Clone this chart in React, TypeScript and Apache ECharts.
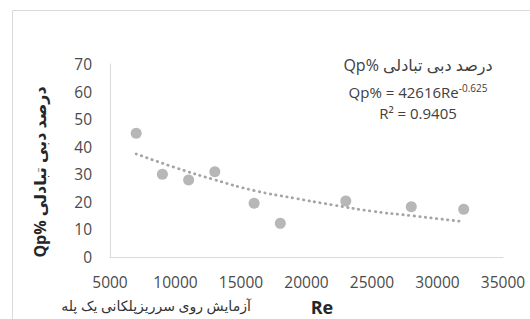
import React, { useEffect, useRef } from "react";
import * as echarts from "echarts";

const reValues = [7000, 9000, 11000, 13000, 16000, 18000, 23000, 28000, 32000];
const qpValues = [44.9, 30.0, 27.9, 30.9, 19.5, 12.2, 20.3, 18.2, 17.3];

// trendline
const trendRe = [7000, 10000, 13000, 16000, 19000, 22000, 25000, 28000, 32000];
const trendQp = [37.4, 32.4, 28.0, 24.1, 21.4, 18.9, 16.6, 15.0, 12.8];

const xTicks = { min: 5000, max: 35000, interval: 5000 };
const yTicks = { min: 0, max: 70, interval: 10 };

const titleText = "Qp% درصد دبی تبادلی";
const yTitleText = "Qp% درصد دبی تبادلی";
const xTitleText = "Re";
const noteText = "آزمایش روی سرریزپلکانی یک پله";
const eqMain = "Qp% = 42616Re";
const eqSup = "-0.625";
const r2Text = "R² = 0.9405";

const FONT = "'Open Sans', 'DejaVu Sans', sans-serif";

export default function App() {
  const ref = useRef<HTMLDivElement>(null);
  useEffect(() => {
    document.body.style.margin = "0";
    const chart = echarts.init(ref.current!, undefined, { renderer: "svg" });
    chart.setOption({
      animation: false,
      backgroundColor: "#ffffff",
      grid: { left: 110, right: 27, top: 64, bottom: 62 },
      xAxis: {
        type: "value",
        min: xTicks.min,
        max: xTicks.max,
        interval: xTicks.interval,
        axisLine: { show: true, lineStyle: { color: "#d9d9d9", width: 1 } },
        axisTick: { show: false },
        splitLine: { show: false },
        axisLabel: {
          color: "#4a4a4a",
          fontSize: 15.5,
          fontFamily: FONT,
          margin: 17,
          formatter: (v: number) => String(v),
        },
      },
      yAxis: {
        type: "value",
        min: yTicks.min,
        max: yTicks.max,
        interval: yTicks.interval,
        axisLine: { show: true, lineStyle: { color: "#d9d9d9", width: 1 } },
        axisTick: { show: false },
        splitLine: { show: false },
        axisLabel: { color: "#4a4a4a", fontSize: 15.5, fontFamily: FONT, margin: 18 },
      },
      series: [
        {
          type: "scatter",
          data: reValues.map((x, i) => [x, qpValues[i]]),
          symbolSize: 11,
          itemStyle: { color: "#a5a5a5" },
          z: 2,
        },
        {
          type: "line",
          data: trendRe.map((x, i) => [x, trendQp[i]]),
          smooth: true,
          showSymbol: false,
          lineStyle: { color: "#a5a5a5", width: 2.8, type: [0.4, 5.2], cap: "round" },
          z: 3,
        },
      ],
      graphic: [
        {
          type: "rect",
          shape: { x: 12.5, y: 10.5, width: 700, height: 500 },
          style: { fill: "none", stroke: "#d9d9d9", lineWidth: 1 },
          silent: true,
        },
        {
          type: "text",
          x: 418,
          y: 65,
          style: { text: titleText, align: "center", verticalAlign: "middle", fontSize: 16, fontFamily: FONT, fill: "#404040" },
        },
        {
          type: "text",
          x: 418,
          y: 92,
          style: {
            text: "{a|" + eqMain + "}{b|" + eqSup + "}",
            align: "center",
            verticalAlign: "middle",
            fontFamily: FONT,
            fill: "#404040",
            rich: {
              a: { fontSize: 15, lineHeight: 18, verticalAlign: "middle", fontFamily: FONT, fill: "#404040" },
              b: { fontSize: 10, lineHeight: 18, verticalAlign: "top", fontFamily: FONT, fill: "#404040" },
            },
          },
        },
        {
          type: "text",
          x: 418,
          y: 113,
          style: { text: r2Text, align: "center", verticalAlign: "middle", fontSize: 15, fontFamily: FONT, fill: "#404040" },
        },
        {
          type: "text",
          x: 40,
          y: 172,
          rotation: Math.PI / 2,
          style: { text: yTitleText, align: "center", verticalAlign: "middle", fontSize: 16, fontWeight: "bold", fontFamily: FONT, fill: "#262626" },
        },
        {
          type: "text",
          x: 322,
          y: 307,
          style: { text: xTitleText, align: "center", verticalAlign: "middle", fontSize: 18, lineHeight: 20, fontWeight: "bold", fontFamily: FONT, fill: "#262626" },
        },
        {
          type: "text",
          x: 156,
          y: 305,
          style: { text: noteText, align: "center", verticalAlign: "middle", fontSize: 14, fontFamily: FONT, fill: "#333333" },
        },
      ],
    });
    return () => chart.dispose();
  }, []);
  return <div ref={ref} style={{ width: 530, height: 319, position: "absolute", left: 0, top: 0 }} />;
}
